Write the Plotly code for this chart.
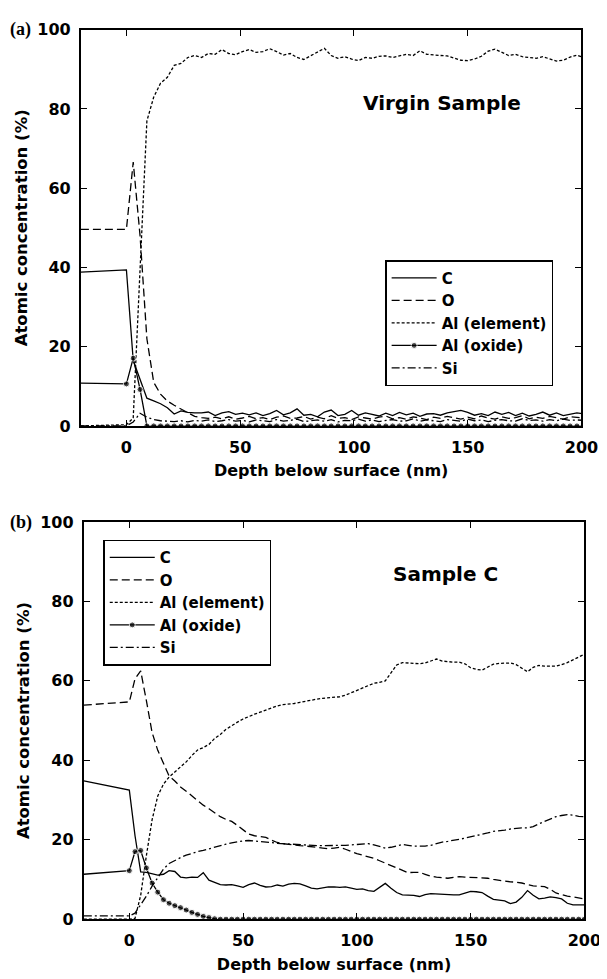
import plotly.graph_objects as go

W, H = 607, 979

# ---------------- (a) Virgin sample ----------------
depth_a = [-20, 0, 3, 6, 9, 12, 15, 18, 21, 24, 27, 30, 33, 36, 39, 42, 45, 48, 51, 54, 57,
           60, 63, 66, 69, 72, 75, 78, 81, 84, 87, 90, 93, 96, 99, 102, 105, 108, 111, 114,
           117, 120, 123, 126, 129, 132, 135, 138, 141, 144, 147, 150, 153, 156, 159, 162,
           165, 168, 171, 174, 177, 180, 183, 186, 189, 192, 195, 198, 201]
C_a = [38.8, 39.4, 16.5, 12.0, 7.0, 6.3, 5.6, 4.6, 3.0, 3.8, 3.4, 3.3, 3.3, 3.5, 2.6, 3.3, 3.6,
       2.9, 3.2, 2.8, 3.3, 2.6, 3.1, 3.9, 2.8, 3.3, 4.3, 2.7, 2.9, 2.3, 3.5, 4.0, 2.6, 2.9, 3.9,
       2.7, 3.3, 2.9, 2.5, 3.2, 2.6, 3.4, 2.8, 3.2, 2.4, 3.0, 3.1, 2.7, 3.3, 3.6, 3.9, 3.4, 2.7,
       3.1, 2.6, 3.5, 2.9, 3.4, 2.6, 3.2, 2.5, 2.9, 3.5, 2.7, 3.3, 2.6, 3.0, 3.3, 3.0]
O_a = [49.6, 49.6, 66.6, 48.0, 22.0, 11.0, 8.0, 6.3, 5.2, 4.2, 3.2, 2.4, 2.1, 1.9, 2.2, 1.8, 2.3,
       1.7, 2.0, 2.4, 1.8, 2.1, 1.6, 2.2, 2.5, 1.9, 2.0, 2.4, 1.7, 2.2, 1.8, 2.6, 1.9, 2.1, 1.6,
       2.3, 2.0, 1.7, 2.2, 2.5, 1.8, 2.1, 1.7, 2.3, 2.0, 1.6, 2.2, 1.9, 2.4, 2.0, 1.7, 2.2, 1.8,
       2.5, 2.0, 1.7, 2.3, 1.9, 2.1, 2.6, 1.8, 2.2, 1.9, 2.4, 2.0, 1.7, 2.3, 2.1, 2.0]
AlEl_a = [0.0, 0.3, 2.0, 40.0, 77.0, 83.0, 86.5, 88.0, 91.0, 91.5, 93.0, 93.5, 93.0, 94.0, 93.8,
          95.0, 94.0, 93.7, 94.5, 95.0, 94.3, 94.5, 95.2, 94.5, 93.6, 94.0, 93.0, 92.5, 93.5,
          94.5, 95.3, 93.5, 92.8, 93.2, 92.6, 92.2, 93.0, 92.8, 93.3, 93.4, 93.0, 93.4, 93.8,
          93.5, 94.7, 93.8, 93.6, 93.5, 93.4, 92.8, 92.3, 92.2, 92.6, 93.3, 94.6, 95.1, 94.2,
          93.5, 93.8, 93.2, 93.0, 92.8, 93.2, 92.6, 92.1, 92.3, 93.1, 93.6, 93.0]
AlOx_a = [10.8, 10.6, 17.1, 9.2] + [0.0] * 65
Si_a = [0.0, 0.0, 1.0, 3.2, 2.2, 1.6, 1.3, 1.2, 1.1, 1.3, 1.0, 1.4, 1.2, 1.5, 1.1, 1.3, 1.6, 1.2,
        1.4, 1.0, 1.5, 1.3, 1.1, 1.6, 1.2, 1.4, 1.7, 1.1, 1.3, 1.5, 1.2, 1.6, 1.0, 1.4, 1.3,
        1.7, 1.2, 1.5, 1.1, 1.4, 1.6, 1.2, 1.3, 1.8, 1.2, 1.5, 1.3, 1.1, 1.6, 1.4, 1.2, 1.7,
        1.3, 1.5, 1.1, 1.4, 1.6, 1.3, 1.2, 1.8, 1.4, 1.5, 1.2, 1.6, 1.3, 1.7, 1.4, 1.5, 1.4]

# ---------------- (b) Sample C ----------------
depth_b = [-20, 0, 2.5, 5, 7.5, 10, 12.5, 15, 17.5, 20, 22.5, 25, 27.5, 30, 32.5, 35, 37.5, 40,
           42.5, 45, 47.5, 50, 52.5, 55, 57.5, 60, 62.5, 65, 67.5, 70, 72.5, 75, 77.5, 80,
           82.5, 85, 87.5, 90, 92.5, 95, 97.5, 100, 102.5, 105, 107.5, 110, 112.5, 115, 117.5,
           120, 122.5, 125, 127.5, 130, 132.5, 135, 137.5, 140, 142.5, 145, 147.5, 150, 152.5,
           155, 157.5, 160, 162.5, 165, 167.5, 170, 172.5, 175, 177.5, 180, 182.5, 185, 187.5,
           190, 192.5, 195, 197.5, 200]
C_b = [34.8, 32.5, 21.0, 11.9, 11.8, 11.5, 11.1, 11.3, 12.2, 12.0, 10.6, 10.4, 10.6, 10.5, 11.7,
       9.8, 9.3, 8.7, 8.6, 8.7, 8.4, 8.0, 8.7, 9.1, 8.5, 8.1, 8.2, 8.6, 8.3, 8.8, 9.0, 8.9, 8.4,
       7.8, 7.6, 7.9, 8.1, 8.1, 8.0, 8.1, 7.8, 7.5, 7.6, 7.2, 7.0, 8.0, 9.0, 7.8, 6.7, 6.1, 6.0,
       6.0, 5.7, 6.2, 6.4, 6.3, 6.2, 6.1, 6.1, 6.1, 6.5, 7.0, 6.9, 6.7, 5.8, 5.0, 4.8, 4.6, 3.9,
       4.3, 5.5, 7.2, 6.0, 5.1, 5.3, 5.6, 5.4, 5.1, 4.0, 3.6, 3.6, 3.6]
O_b = [53.9, 54.7, 60.5, 62.5, 55.0, 47.0, 42.5, 39.3, 36.0, 34.8, 33.3, 32.2, 31.0, 29.8, 28.7,
       27.8, 26.8, 25.8, 25.1, 24.6, 23.6, 22.6, 21.4, 21.0, 20.8, 20.6, 19.9, 19.3, 19.0, 18.8,
       18.6, 18.5, 18.4, 18.3, 18.1, 17.9, 17.7, 17.9, 18.1, 17.6, 17.0, 16.5, 16.1, 15.7, 15.3,
       14.7, 14.1, 13.5, 12.8, 12.1, 11.7, 11.8, 11.8, 11.3, 10.8, 10.6, 10.4, 10.3, 10.5, 10.7,
       10.6, 10.5, 10.4, 10.3, 10.3, 10.0, 9.8, 9.5, 9.4, 9.3, 9.1, 8.7, 8.4, 8.3, 8.2, 7.5, 6.6,
       6.2, 5.8, 5.6, 5.3, 5.1]
AlEl_b = [0.0, 0.0, 0.2, 6.0, 16.0, 25.0, 31.0, 34.0, 35.8, 37.0, 38.4, 39.6, 41.2, 42.6, 43.2,
          44.0, 45.5, 46.5, 47.8, 48.8, 49.6, 50.4, 51.1, 51.6, 52.1, 52.6, 53.2, 53.7, 54.0,
          54.1, 54.3, 54.6, 54.9, 55.2, 55.4, 55.6, 55.7, 55.8, 56.0, 56.4, 57.0, 57.6, 58.2,
          58.8, 59.4, 59.6, 60.0, 62.0, 64.0, 64.6, 64.5, 64.5, 64.3, 64.5, 65.1, 65.5, 65.0,
          64.8, 64.7, 64.7, 64.3, 63.3, 62.9, 62.7, 63.4, 64.2, 64.4, 64.5, 64.5, 64.1, 63.2,
          62.3, 63.4, 63.9, 63.7, 63.7, 63.7, 64.1, 64.6, 65.3, 66.0, 66.7]
AlOx_b = [11.3, 12.2, 17.0, 17.3, 12.9, 9.1, 6.8, 4.9, 4.0, 3.4, 2.9, 2.3, 1.7, 1.2, 0.7, 0.4,
          0.1] + [0.0] * 65
Si_b = [0.8, 0.8, 1.5, 3.5, 5.8, 8.3, 10.6, 12.6, 14.0, 14.8, 15.5, 16.1, 16.6, 17.0, 17.3, 17.7,
        18.2, 18.6, 18.9, 19.2, 19.5, 19.7, 19.8, 19.7, 19.5, 19.4, 19.3, 19.1, 19.0, 18.9, 18.8,
        18.8, 18.7, 18.5, 18.5, 18.5, 18.5, 18.5, 18.5, 18.6, 18.7, 18.8, 18.8, 19.0, 18.7, 18.3,
        17.9, 18.1, 18.5, 18.8, 18.6, 18.4, 18.4, 18.4, 18.6, 19.0, 19.4, 19.6, 19.8, 20.1, 20.4,
        20.7, 21.0, 21.3, 21.7, 22.1, 22.2, 22.4, 22.7, 22.9, 23.0, 23.0, 23.3, 24.0, 24.6, 25.2,
        25.8, 26.1, 26.3, 26.2, 25.9, 25.8]

names = ["C", "O", "Al (element)", "Al (oxide)", "Si"]
dashes = ["solid", "8px,4px", "3px,2px", "solid", "8px,3px,2px,3px"]
x_ticks = [0, 50, 100, 150, 200]
y_ticks = [0, 20, 40, 60, 80, 100]

FONT = "DejaVu Sans, Liberation Sans, Arial, sans-serif"
SERIF = "Liberation Serif, Times New Roman, serif"
fig = go.Figure()


def add_panel(depth, series, xa, ya, legend):
    for name, vals, dash in zip(names, series, dashes):
        is_ox = name == "Al (oxide)"
        fig.add_trace(go.Scatter(
            x=depth, y=vals, name=name, xaxis=xa, yaxis=ya, legend=legend,
            mode="lines+markers" if is_ox else "lines",
            line=dict(color="black", width=1.3, dash=dash),
            marker=dict(color="black", size=[0] + [6] * (len(depth) - 1)) if is_ox else None,
        ))


add_panel(depth_a, [C_a, O_a, AlEl_a, AlOx_a, Si_a], "x", "y", "legend")
add_panel(depth_b, [C_b, O_b, AlEl_b, AlOx_b, Si_b], "x2", "y2", "legend2")

axis_common = dict(
    showline=True, linecolor="black", linewidth=2, mirror="ticks",
    ticks="inside", ticklen=6, tickwidth=1.2, tickcolor="black",
    showgrid=False, zeroline=False,
    tickfont=dict(family=FONT, size=16, color="black", weight="bold"),
)
xtitle = dict(text="Depth below surface (nm)",
              font=dict(family=FONT, size=16, color="black", weight="bold"), standoff=9)
ytitle = dict(text="Atomic concentration (%)",
              font=dict(family=FONT, size=16.5, color="black", weight="bold"), standoff=6)

legend_common = dict(xanchor="left", yanchor="top",
                     bordercolor="black", borderwidth=1.5, bgcolor="white",
                     font=dict(family=FONT, size=15, color="black", weight="bold"),
                     itemwidth=45, tracegroupgap=0)

fig.update_layout(
    width=W, height=H, margin=dict(l=0, r=0, t=0, b=0),
    plot_bgcolor="white", paper_bgcolor="white",
    xaxis=dict(domain=[75 / W, 590 / W], range=[-20, 200], tickvals=x_ticks, anchor="y",
               title=xtitle, ticklabelstandoff=6, **axis_common),
    yaxis=dict(domain=[1 - 417 / H, 1 - 13 / H], range=[0, 100], tickvals=y_ticks, anchor="x",
               title=ytitle, ticklabelstandoff=5, **axis_common),
    xaxis2=dict(domain=[78 / W, 593 / W], range=[-20, 200], tickvals=x_ticks, anchor="y2",
                title=xtitle, ticklabelstandoff=6, **axis_common),
    yaxis2=dict(domain=[1 - 920 / H, 1 - 515 / H], range=[0, 100], tickvals=y_ticks, anchor="x2",
                title=ytitle, ticklabelstandoff=5, **axis_common),
    legend=dict(x=388 / W, y=1 - 248 / H, **legend_common),
    legend2=dict(x=98 / W, y=1 - 533 / H, **legend_common),
    annotations=[
        dict(text="Virgin Sample", x=446 / W, y=1 - 88 / H, xref="paper", yref="paper",
             xanchor="center", yanchor="middle", showarrow=False,
             font=dict(family=FONT, size=20, color="black", weight="bold")),
        dict(text="Sample C", x=450 / W, y=1 - 568 / H, xref="paper", yref="paper",
             xanchor="center", yanchor="middle", showarrow=False,
             font=dict(family=FONT, size=20, color="black", weight="bold")),
        dict(text="(a)", x=0, y=1 - 13 / H, xref="paper", yref="paper",
             xanchor="left", yanchor="middle", showarrow=False,
             font=dict(family=SERIF, size=18, color="black", weight="bold")),
        dict(text="(b)", x=0, y=1 - 516 / H, xref="paper", yref="paper",
             xanchor="left", yanchor="middle", showarrow=False,
             font=dict(family=SERIF, size=18, color="black", weight="bold")),
    ],
)

fig.write_html("out.html")
